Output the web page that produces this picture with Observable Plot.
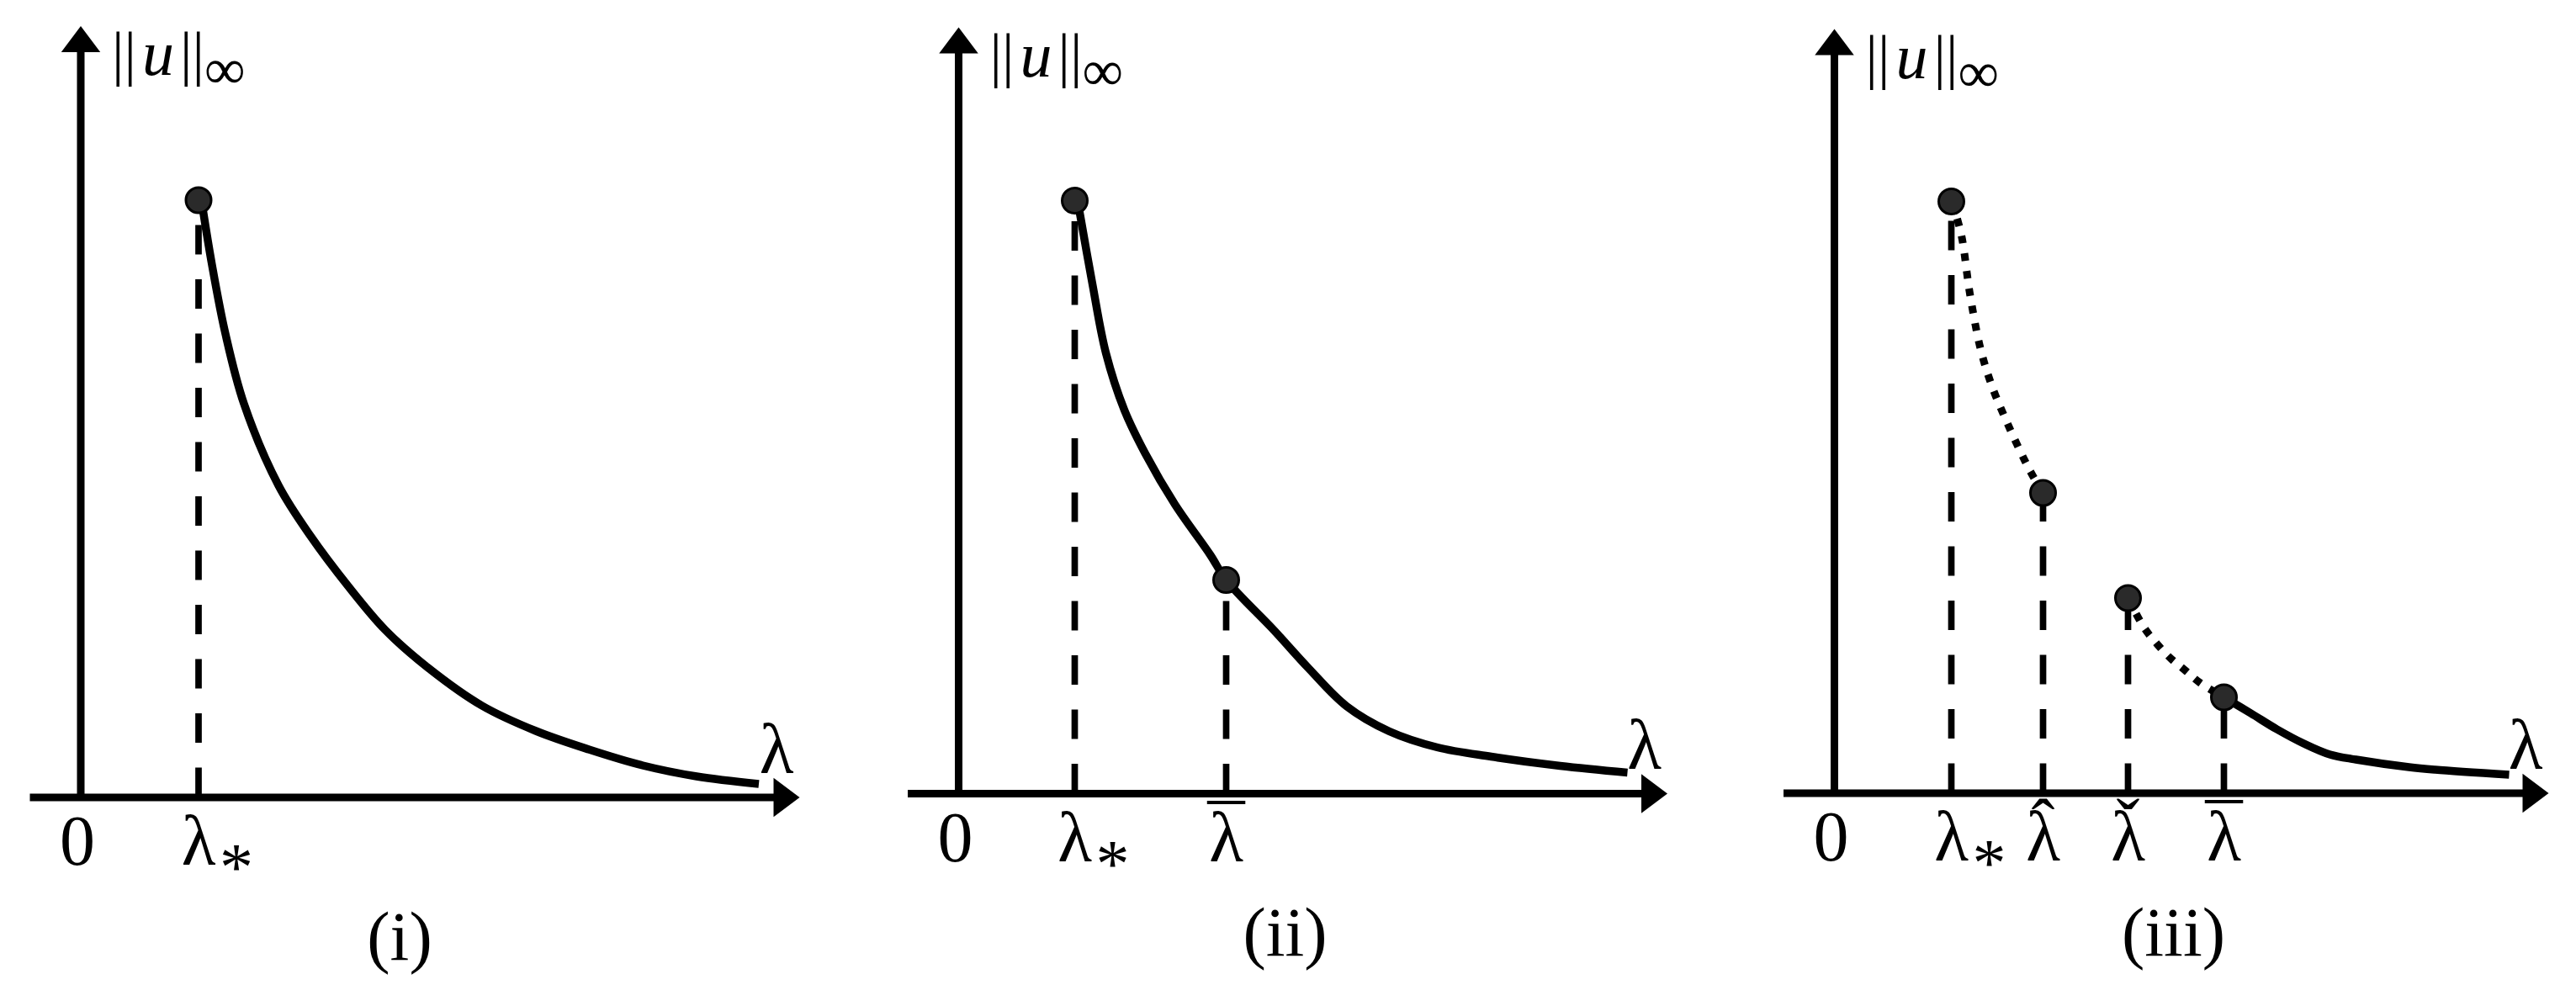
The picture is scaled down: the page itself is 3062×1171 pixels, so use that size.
<!DOCTYPE html>
<html>
<head>
<meta charset="utf-8">
<script src="https://cdn.jsdelivr.net/npm/d3@7"></script>
<script src="https://cdn.jsdelivr.net/npm/@observablehq/plot@0.6"></script>
<style>
  html, body { margin: 0; padding: 0; background: #fff; }
  #row { display: flex; flex-direction: row; width: 3062px; height: 1171px; }
  #row svg { display: block; }
</style>
</head>
<body>
<div id="row"></div>
<script>
// ---------- data (arbitrary units: lambda along x, ||u||_inf along y) ----------
const panelWidths   = [1040, 1040, 982];
const panelOrigins  = [[95.5, 947.5], [99, 943], [100, 942.5]];   // where (0,0) sits in each panel
const axisXStart    = [-0.6, -0.6, -0.6];
const axisXEnd      = [8.545, 8.425, 8.49];
const axisYEnd      = [9.17, 9.11, 9.085];
const captions      = ["(i)", "(ii)", "(iii)"];
const captionLambda = [3.79, 3.88, 4.03];

// panel (i)
const p1Solid = [
  {lambda: 1.45, norm: 7.00}, {lambda: 1.56, norm: 6.33}, {lambda: 1.72, norm: 5.51},
  {lambda: 1.94, norm: 4.68}, {lambda: 2.35, norm: 3.71}, {lambda: 2.73, norm: 3.11},
  {lambda: 3.18, norm: 2.51}, {lambda: 3.62, norm: 1.99}, {lambda: 4.13, norm: 1.54},
  {lambda: 4.77, norm: 1.09}, {lambda: 5.41, norm: 0.79}, {lambda: 6.04, norm: 0.57},
  {lambda: 6.68, norm: 0.38}, {lambda: 7.32, norm: 0.25}, {lambda: 8.06, norm: 0.16}
];
const p1Points = [{lambda: 1.40, norm: 7.10}];
const p1Ticks  = [{lambda: 0, label: "0", mark: ""}, {lambda: 1.40, label: "λ", mark: "star"}];

// panel (ii)
const p2Solid = [
  {lambda: 1.43, norm: 6.96}, {lambda: 1.59, norm: 6.06}, {lambda: 1.75, norm: 5.24},
  {lambda: 1.97, norm: 4.56}, {lambda: 2.22, norm: 4.04}, {lambda: 2.57, norm: 3.44},
  {lambda: 2.99, norm: 2.84}, {lambda: 3.18, norm: 2.54}, {lambda: 3.75, norm: 1.94},
  {lambda: 4.16, norm: 1.49}, {lambda: 4.61, norm: 1.04}, {lambda: 5.12, norm: 0.74},
  {lambda: 5.69, norm: 0.55}, {lambda: 6.33, norm: 0.44}, {lambda: 7.15, norm: 0.33},
  {lambda: 7.95, norm: 0.25}
];
const p2Points = [{lambda: 1.38, norm: 7.05}, {lambda: 3.18, norm: 2.54}];
const p2Ticks  = [{lambda: 0, label: "0", mark: ""}, {lambda: 1.38, label: "λ", mark: "star"},
                  {lambda: 3.18, label: "λ", mark: "bar"}];

// panel (iii)
const p3DottedA = [
  {lambda: 1.40, norm: 7.03}, {lambda: 1.51, norm: 6.63}, {lambda: 1.61, norm: 5.94},
  {lambda: 1.74, norm: 5.27}, {lambda: 1.88, norm: 4.82}, {lambda: 2.06, norm: 4.39},
  {lambda: 2.26, norm: 3.96}, {lambda: 2.36, norm: 3.77}, {lambda: 2.48, norm: 3.57}
];
const p3DottedB = [
  {lambda: 3.49, norm: 2.32}, {lambda: 3.68, norm: 1.97}, {lambda: 3.83, norm: 1.78},
  {lambda: 3.99, norm: 1.61}, {lambda: 4.17, norm: 1.46}, {lambda: 4.35, norm: 1.31},
  {lambda: 4.63, norm: 1.14}
];
const p3Solid = [
  {lambda: 4.63, norm: 1.14}, {lambda: 4.95, norm: 0.95}, {lambda: 5.26, norm: 0.76},
  {lambda: 5.58, norm: 0.59}, {lambda: 5.89, norm: 0.46}, {lambda: 6.20, norm: 0.40},
  {lambda: 6.83, norm: 0.31}, {lambda: 7.14, norm: 0.28}, {lambda: 8.02, norm: 0.22}
];
const p3Points = [{lambda: 1.39, norm: 7.035}, {lambda: 2.48, norm: 3.57},
                  {lambda: 3.49, norm: 2.32}, {lambda: 4.63, norm: 1.14}];
const p3Ticks  = [{lambda: 0, label: "0", mark: ""}, {lambda: 1.39, label: "λ", mark: "star"},
                  {lambda: 2.48, label: "λ", mark: "hat"}, {lambda: 3.49, label: "λ", mark: "check"},
                  {lambda: 4.63, label: "λ", mark: "bar"}];

// ---------- drawing ----------
const FONT = "'Liberation Serif', 'Times New Roman', Times, serif";
const arrowRight = {draw(ctx, size) { const r = Math.sqrt(size / Math.PI);
  ctx.moveTo(0, 0); ctx.lineTo(-2 * r, -1.5 * r); ctx.lineTo(-2 * r, 1.5 * r); ctx.closePath(); }};
const arrowUp = {draw(ctx, size) { const r = Math.sqrt(size / Math.PI);
  ctx.moveTo(0, 0); ctx.lineTo(-1.5 * r, 2 * r); ctx.lineTo(1.5 * r, 2 * r); ctx.closePath(); }};
const accentGlyph = {star: "*", hat: "ˆ", check: "ˇ", bar: "¯"};
const accentDx = {star: 45, hat: 0, check: 0, bar: 0};
const accentDy = {star: 30, hat: -15, check: -15, bar: -5};
const accentSize = {star: 80, hat: 84, check: 84, bar: 88};

function panel(i, solids, dotted, points, ticks) {
  const W = panelWidths[i], H = 1171;
  const [ox, oy] = panelOrigins[i];
  const xEnd = axisXEnd[i], yEnd = axisYEnd[i];
  const unit = 100;
  const marginLeft = ox, marginRight = W - ox - xEnd * unit;
  const marginBottom = H - oy, marginTop = oy - yEnd * unit;
  const xAxis = [{y: 0, x1: axisXStart[i], x2: xEnd - 0.2}];
  const yAxis = [{x: 0, y1: 0, y2: yEnd - 0.2}];
  const xTip = [{x: xEnd, y: 0}], yTip = [{x: 0, y: yEnd}];
  const topAnchor = [{x: 0, y: yEnd}];
  const cap = [{x: captionLambda[i], y: 0, t: captions[i]}];
  const zeroTick = ticks.filter(d => d.lambda === 0);
  const lamTicks = ticks.filter(d => d.lambda !== 0);
  const lblBase = 80;
  const marks = [
    Plot.ruleY(xAxis, {y: "y", x1: "x1", x2: "x2", stroke: "#000", strokeWidth: 9}),
    Plot.ruleX(yAxis, {x: "x", y1: "y1", y2: "y2", stroke: "#000", strokeWidth: 9}),
    Plot.dot(xTip, {x: "x", y: "y", symbol: arrowRight, r: 15.5, fill: "#000", stroke: "none"}),
    Plot.dot(yTip, {x: "x", y: "y", symbol: arrowUp, r: 15.5, fill: "#000", stroke: "none"}),
    Plot.ruleX(points, {x: "lambda", y1: 0, y2: "norm", stroke: "#000", strokeWidth: 7.7, strokeDasharray: "35,29.5"}),
    ...solids.map(s => Plot.line(s, {x: "lambda", y: "norm", curve: "catmull-rom", stroke: "#000", strokeWidth: 9.5, strokeLinecap: "butt"})),
    ...dotted.map(s => Plot.line(s, {x: "lambda", y: "norm", curve: "catmull-rom", stroke: "#000", strokeWidth: 9, strokeLinecap: "butt", strokeDasharray: "9,12"})),
    Plot.dot(points, {x: "lambda", y: "norm", r: 15, fill: "#2a2a2a", stroke: "#000", strokeWidth: 3}),
    // tick labels
    Plot.text(zeroTick, {x: "lambda", y: () => 0, text: "label", fontFamily: FONT, fontSize: 84, lineAnchor: "bottom", textAnchor: "middle", dy: lblBase, dx: -4}),
    Plot.text(lamTicks, {x: "lambda", y: () => 0, text: "label", fontFamily: FONT, fontSize: 84, lineAnchor: "bottom", textAnchor: "middle", dy: lblBase}),
    ...Object.keys(accentGlyph).map(k => Plot.text(lamTicks.filter(d => d.mark === k), {x: "lambda", y: () => 0, text: () => accentGlyph[k], fontFamily: FONT, fontSize: accentSize[k], lineAnchor: "bottom", textAnchor: "middle", dy: lblBase + accentDy[k], dx: accentDx[k]})),
    // axis titles
    Plot.text(xTip, {x: "x", y: "y", text: () => "λ", fontFamily: FONT, fontSize: 84, lineAnchor: "bottom", textAnchor: "middle", dx: -27.5, dy: -29.5}),
    Plot.text(topAnchor, {x: "x", y: "y", text: () => "||", fontFamily: FONT, fontSize: 72, lineAnchor: "bottom", textAnchor: "start", dx: 37, dy: 57}),
    Plot.text(topAnchor, {x: "x", y: "y", text: () => "u", fontFamily: FONT, fontStyle: "italic", fontSize: 76, lineAnchor: "bottom", textAnchor: "start", dx: 73, dy: 58}),
    Plot.text(topAnchor, {x: "x", y: "y", text: () => "||", fontFamily: FONT, fontSize: 72, lineAnchor: "bottom", textAnchor: "start", dx: 118, dy: 57}),
    Plot.text(topAnchor, {x: "x", y: "y", text: () => "∞", fontFamily: FONT, fontSize: 68, lineAnchor: "bottom", textAnchor: "start", dx: 147, dy: 74}),
    // caption
    Plot.text(cap, {x: "x", y: "y", text: "t", fontFamily: FONT, fontSize: 82, lineAnchor: "bottom", textAnchor: "middle", dy: 192.5})
  ];
  return Plot.plot({
    width: W, height: H,
    marginLeft, marginRight, marginTop, marginBottom,
    x: {domain: [0, xEnd], axis: null},
    y: {domain: [0, yEnd], axis: null},
    style: {background: "#fff", overflow: "visible", fontFamily: FONT},
    marks
  });
}

const row = document.getElementById("row");
row.appendChild(panel(0, [p1Solid], [], p1Points, p1Ticks));
row.appendChild(panel(1, [p2Solid], [], p2Points, p2Ticks));
row.appendChild(panel(2, [p3Solid], [p3DottedA, p3DottedB], p3Points, p3Ticks));
</script>
</body>
</html>
